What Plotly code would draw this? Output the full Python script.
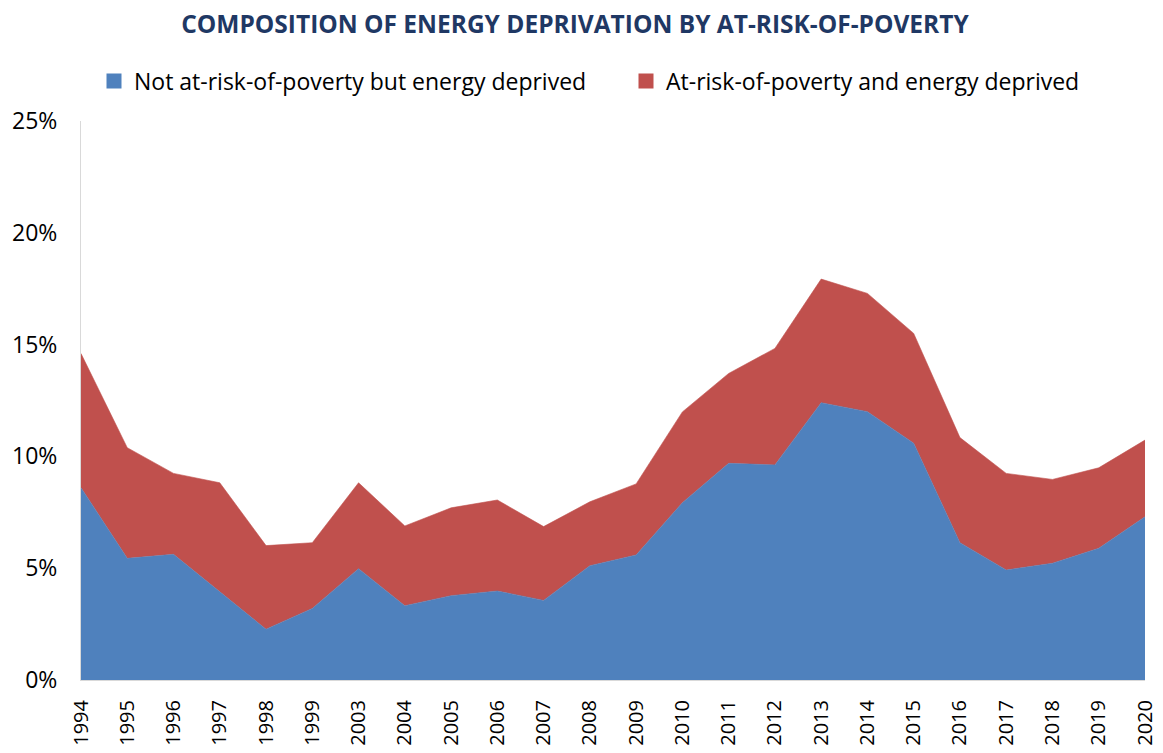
import plotly.graph_objects as go

years = ["1994", "1995", "1996", "1997", "1998", "1999", "2003", "2004", "2005", "2006",
         "2007", "2008", "2009", "2010", "2011", "2012", "2013", "2014", "2015", "2016",
         "2017", "2018", "2019", "2020"]
not_at_risk = [8.6, 5.44, 5.62, 3.95, 2.27, 3.2, 4.98, 3.32, 3.77, 3.98,
               3.56, 5.11, 5.59, 7.93, 9.69, 9.62, 12.4, 12.0, 10.59, 6.14,
               4.92, 5.22, 5.89, 7.3]
total = [14.6, 10.39, 9.24, 8.82, 6.01, 6.14, 8.82, 6.89, 7.7, 8.05,
         6.86, 7.97, 8.77, 11.99, 13.71, 14.83, 17.93, 17.29, 15.5, 10.84,
         9.24, 8.97, 9.49, 10.73]
at_risk = [round(t - n, 2) for t, n in zip(total, not_at_risk)]

series_names = ["Not at-risk-of-poverty but energy deprived", "At-risk-of-poverty and energy deprived"]
colors = ["#4F81BD", "#C0504D"]
legends = ["legend", "legend2"]

W, H = 1155, 745

fig = go.Figure()
for name, vals, col in zip(series_names, [not_at_risk, at_risk], colors):
    fig.add_trace(go.Scatter(
        x=years, y=[v / 100 for v in vals], name=name, mode="lines",
        stackgroup="one", line=dict(width=0.6, color=col), fillcolor=col,
        showlegend=False,
    ))
# legend entries with square markers
for name, col, lg in zip(series_names, colors, legends):
    fig.add_trace(go.Scatter(
        x=[None], y=[None], name=name, mode="markers",
        marker=dict(symbol="square", size=15, color=col), legend=lg,
    ))

legend_common = dict(orientation="h", yref="container", y=1 - 73 / H, yanchor="middle",
                     xref="container", xanchor="left", font=dict(size=23),
                     itemwidth=30, bgcolor="rgba(0,0,0,0)")

fig.update_layout(
    width=W, height=H,
    margin=dict(l=73, r=18, t=113, b=73, autoexpand=False),
    paper_bgcolor="white", plot_bgcolor="white",
    font=dict(family="Open Sans", size=18, color="#000000"),
    title=dict(text="<b>COMPOSITION OF ENERGY DEPRIVATION BY AT-RISK-OF-POVERTY</b>",
               x=567 / W, xanchor="center", xref="container", yref="container",
               y=1 - 16 / H, yanchor="middle",
               font=dict(family="Open Sans", size=24.5, color="#1F3864")),
    legend=dict(x=86 / W, **legend_common),
    legend2=dict(x=618 / W, **legend_common),
    showlegend=True,
)
fig.update_xaxes(type="category", range=[0, len(years) - 1], tickangle=-90,
                 showline=True, linecolor="#D9D9D9", linewidth=1, showgrid=False,
                 ticks="", tickfont=dict(size=20), automargin=False, ticklabelstandoff=11)
fig.update_yaxes(range=[0, 0.25], dtick=0.05, tickformat=".0%", showgrid=False,
                 showline=True, linecolor="#D9D9D9", linewidth=1, ticks="", zeroline=False,
                 tickfont=dict(size=23), ticklabelstandoff=18, automargin=False)

fig.write_html("out.html")
